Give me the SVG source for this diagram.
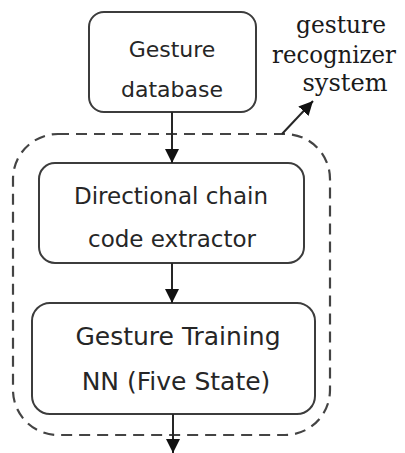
<svg xmlns="http://www.w3.org/2000/svg" width="405" height="453" viewBox="0 0 405 453">
<style>
.box{fill:#fff;stroke:#3c3c3c;stroke-width:2}
.t{font-family:"DejaVu Sans","Verdana",sans-serif;fill:#262626;text-anchor:middle}
.lbl{font-family:"DejaVu Serif","Liberation Serif",serif;fill:#1a1a1a;text-anchor:middle;font-size:24px}
.con{stroke:#262626;stroke-width:2;fill:none}
.dash{fill:none;stroke:#444;stroke-width:2.2;stroke-dasharray:11 7}
</style>
<defs>
<marker id="ah" viewBox="0 0 14 14" refX="14" refY="7" markerWidth="14" markerHeight="14" markerUnits="userSpaceOnUse" orient="auto">
<path d="M0,0 L14,7 L0,14 Z" fill="#111"/>
</marker>
</defs>
<rect width="405" height="453" fill="#fff"/>
<g id="system">
<rect class="dash" x="13" y="134" width="317" height="301" rx="45" ry="45"/>
<text class="lbl" x="341" y="33" textLength="90" lengthAdjust="spacingAndGlyphs">gesture</text>
<text class="lbl" x="334" y="63" textLength="124" lengthAdjust="spacingAndGlyphs">recognizer</text>
<text class="lbl" x="345" y="91" textLength="85" lengthAdjust="spacingAndGlyphs">system</text>
</g>
<g id="database">
<rect class="box" x="89" y="12" width="167" height="100" rx="15"/>
<text class="t" x="172" y="57" font-size="22">Gesture</text>
<text class="t" x="172" y="97" font-size="22">database</text>
</g>
<g id="extractor">
<rect class="box" x="39" y="163" width="265" height="100" rx="16"/>
<text class="t" x="171" y="204" font-size="23">Directional chain</text>
<text class="t" x="172" y="247" font-size="23">code extractor</text>
</g>
<g id="training">
<rect class="box" x="32" y="303" width="283" height="111" rx="18"/>
<text class="t" x="178" y="345" font-size="25">Gesture Training</text>
<text class="t" x="176" y="390" font-size="25">NN (Five State)</text>
</g>
<g id="connectors">
<line class="con" x1="172" y1="112" x2="172" y2="163" marker-end="url(#ah)"/>
<line class="con" x1="172" y1="263" x2="172" y2="303" marker-end="url(#ah)"/>
<line class="con" x1="173" y1="414" x2="173" y2="453" marker-end="url(#ah)"/>
<line class="con" x1="282" y1="134" x2="313" y2="101" marker-end="url(#ah)"/>
</g>
</svg>
